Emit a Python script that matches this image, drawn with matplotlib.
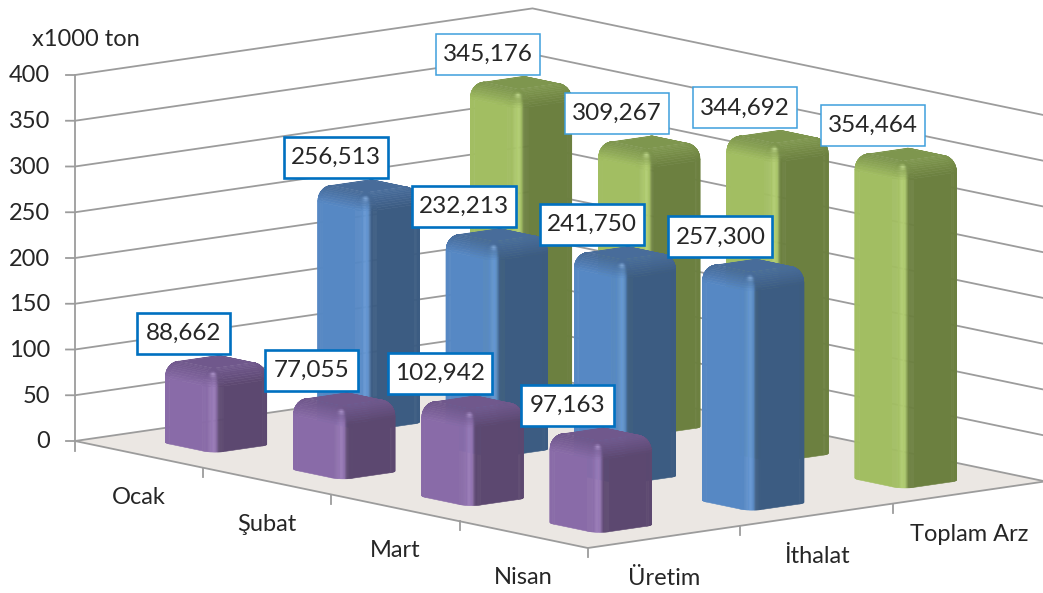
#!/usr/bin/env python3
"""3D style bar chart (oblique projection drawn on a flat pixel axes)"""

import numpy as np
import matplotlib
matplotlib.use('Agg')
import matplotlib.pyplot as plt
from matplotlib.collections import PolyCollection
from matplotlib.patches import Polygon, Rectangle

plt.rcParams['font.family'] = ['Lato', 'DejaVu Sans']

months = ['Ocak', 'Şubat', 'Mart', 'Nisan']
series_names = ['Üretim', 'İthalat', 'Toplam Arz']
uretim = [88.662, 77.055, 102.942, 97.163]
ithalat = [256.513, 232.213, 241.750, 257.300]
toplam_arz = [345.176, 309.267, 344.692, 354.464]
y_ticks = [0, 50, 100, 150, 200, 250, 300, 350, 400]
y_unit = 'x1000 ton'

# light face, dark face, top face
palette = [
    ((137, 107, 168), (92, 72, 112), (112, 88, 140)),
    ((86, 136, 196), (60, 92, 130), (72, 108, 154)),
    ((162, 190, 98), (108, 128, 64), (126, 150, 78)),
]
border_style = [('#0070C0', 1.9), ('#0070C0', 1.9), ('#3F9FDC', 1.1)]

GRID = '#9C9C9C'
TEXT = '#262626'
FLOOR = '#EBE7E3'


def project(m, s, z=0.0):
    """month pos, series pos, value -> pixel position"""
    x = 75 + 128.2 * np.asarray(m) + 152.5 * np.asarray(s)
    y = 441 + 26.75 * np.asarray(m) - 22.2 * np.asarray(s) - 0.915 * np.asarray(z)
    return x, y


def smooth(a, b, v):
    t = np.clip((v - a) / (b - a), 0, 1)
    return t * t * (3 - 2 * t)


def shade(nm, ns, nz, colors):
    light, dark, top = [np.array(c, dtype=float) for c in colors]
    d = -ns - nm
    scale = np.hypot(nm, ns)
    if scale > 1e-6:
        d = d / scale
    side = dark + (light - dark) * smooth(-0.62, -0.22, d)
    side = side + 14 * np.exp(-((d - 0.0) / 0.33) ** 2)
    col = side * (1 - nz) + top * nz
    # little shiny spot on the top front corner
    spot = np.exp(-((nm - 0.45) ** 2 + (ns + 0.45) ** 2 + (nz - 0.72) ** 2) / 0.035)
    col = col + 45 * spot
    return tuple(np.clip(col, 0, 255) / 255)


def draw_bar(ax, m_pos, s_pos, value, colors, zorder):
    half_m, half_s = 0.21, 0.196
    r_m, r_s = 0.08, 0.07
    r_z = 17.0
    corners = [
        (m_pos + half_m - r_m, s_pos - half_s + r_s, -90),
        (m_pos + half_m - r_m, s_pos + half_s - r_s, 0),
        (m_pos - half_m + r_m, s_pos + half_s - r_s, 90),
        (m_pos - half_m + r_m, s_pos - half_s + r_s, 180),
    ]
    path = []
    for cm, cs, start in corners:
        for a in np.linspace(start, start + 90, 19):
            path.append((cm, cs, np.radians(a)))
    path.append((path[0][0], path[0][1], path[0][2] + 2 * np.pi))

    rings = [(0.0, None)] + [(t, t) for t in np.radians(np.linspace(0, 90, 11))]

    def point(p, ring):
        th = ring[1]
        if th is None:
            return (p[0] + r_m * np.cos(p[2]), p[1] + r_s * np.sin(p[2]), 0.0)
        return (p[0] + r_m * np.cos(p[2]) * np.cos(th),
                p[1] + r_s * np.sin(p[2]) * np.cos(th),
                value - r_z + r_z * np.sin(th))

    polys, cols = [], []
    for lo, hi in zip(rings[:-1], rings[1:]):
        for p, q in zip(path[:-1], path[1:]):
            pts = [point(p, lo), point(q, lo), point(q, hi), point(p, hi)]
            xy = np.array([project(*a) for a in pts], dtype=float)
            x, y = xy[:, 0], xy[:, 1]
            area = np.dot(x, np.roll(y, -1)) - np.dot(y, np.roll(x, -1))
            if area > -1e-6:
                continue
            th = 0.0 if hi[1] is None else (hi[1] + (lo[1] if lo[1] is not None else hi[1])) / 2
            a = (p[2] + q[2]) / 2
            polys.append(xy)
            cols.append(shade(np.cos(a) * np.cos(th), np.sin(a) * np.cos(th), np.sin(th), colors))
    # flat top
    cap = np.array([project(c[0], c[1], value) for c in corners])
    ax.add_patch(Polygon(cap, closed=True, fc=np.array(colors[2]) / 255, ec='none', zorder=zorder))
    ax.add_collection(PolyCollection(polys, facecolors=cols, edgecolors=cols, linewidths=0.4, zorder=zorder))


fig = plt.figure(figsize=(10.43, 5.93), dpi=100)
ax = fig.add_axes([0, 0, 1, 1])
ax.set_xlim(0, 1043)
ax.set_ylim(593, 0)
ax.axis('off')

n_m, n_s = len(months), len(series_names)

# floor
floor = [project(0, 0), project(n_m, 0), project(n_m, n_s), project(0, n_s)]
ax.add_patch(Polygon(floor, closed=True, fc=FLOOR, ec='none', zorder=1))

# walls grid
for v in y_ticks:
    x0, y0 = project(0, 0, v)
    x1, y1 = project(0, n_s, v)
    x2, y2 = project(n_m, n_s, v)
    ax.plot([x0 - 9, x0, x1, x2], [y0, y0, y1, y2], color=GRID, lw=1.3, zorder=2)
    ax.text(x0 - 25, y0 + 1, str(v), ha='right', va='center', fontsize=17, color=TEXT, zorder=20)

x0, y0 = project(0, 0, 0)
x1, y1 = project(0, 0, y_ticks[-1])
ax.plot([x0, x1], [y0 + 10, y1], color=GRID, lw=1.3, zorder=2)

# front floor edges and ticks
x_e = [project(0, 0)[0], project(n_m, 0)[0], project(n_m, n_s)[0]]
y_e = [project(0, 0)[1], project(n_m, 0)[1], project(n_m, n_s)[1]]
ax.plot(x_e, y_e, color=GRID, lw=1.3, zorder=2)
for i in range(1, n_m + 1):
    tx, ty = project(i, 0)
    ax.plot([tx, tx], [ty, ty + 9], color=GRID, lw=1.3, zorder=2)
for j in range(1, n_s):
    tx, ty = project(n_m, j)
    ax.plot([tx, tx], [ty, ty + 9], color=GRID, lw=1.3, zorder=2)

for i, name in enumerate(months):
    tx, ty = project(i + 0.5, 0)
    ax.text(tx, ty + 43, name, ha='center', va='center', fontsize=17, color=TEXT, zorder=20)
for j, name in enumerate(series_names):
    tx, ty = project(n_m, j + 0.5)
    ax.text(tx, ty + 42, name, ha='center', va='center', fontsize=17, color=TEXT, zorder=20)
ax.text(32, 39, y_unit, ha='left', va='center', fontsize=17, color=TEXT, zorder=20)

# bars, back to front
all_values = [uretim, ithalat, toplam_arz]
order = 3
for j in reversed(range(n_s)):
    for i in range(n_m):
        draw_bar(ax, i + 0.5, j + 0.505, all_values[j][i], palette[j], order)
        order += 1

# data labels
for j in range(n_s):
    color, lw = border_style[j]
    for i in range(n_m):
        v = all_values[j][i]
        cx, cy = project(i + 0.5, j + 0.5, v)
        cx, cy = cx - 32, cy - 29
        w = 104 if v >= 100 else 93
        ax.add_patch(Rectangle((cx - w / 2, cy - 20.5), w, 41, fc='white', ec=color, lw=lw, zorder=40))
        ax.text(cx, cy, f'{v:.3f}'.replace('.', ','), ha='center', va='center',
                fontsize=17.5, color=TEXT, zorder=41)

fig.savefig('out.png', dpi=100)
